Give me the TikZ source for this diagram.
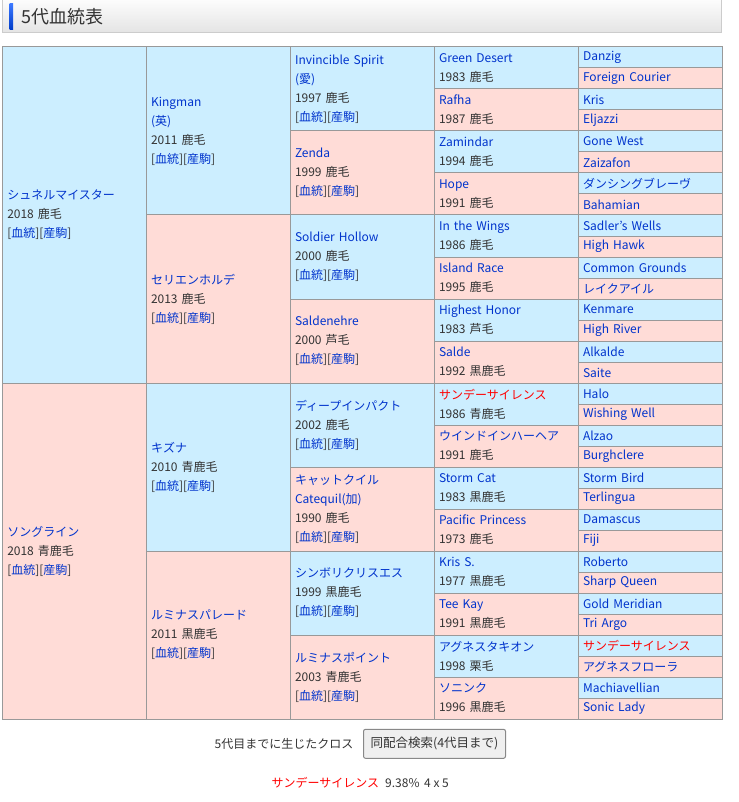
\documentclass[tikz,border=0pt]{standalone}
\usepackage{fontspec}
\setmainfont{Noto Sans CJK JP}
\definecolor{blu}{RGB}{204,238,255}
\definecolor{pnk}{RGB}{255,220,215}
\definecolor{bd}{RGB}{153,153,153}
\definecolor{lnk}{RGB}{0,51,204}
\definecolor{tx}{RGB}{51,51,51}
\definecolor{rd}{RGB}{255,0,0}
\definecolor{hdtop}{RGB}{252,252,252}
\definecolor{hdbot}{RGB}{228,228,228}
\definecolor{hdline}{RGB}{204,204,204}
\definecolor{bartop}{RGB}{60,120,255}
\definecolor{barbot}{RGB}{0,60,200}
\definecolor{btnf}{RGB}{239,239,239}
\definecolor{btnb}{RGB}{136,136,136}
\newcommand\lk{\relax[{\color{lnk}血統}][{\color{lnk}産駒}]}
\newcommand\nm[1]{{\color{lnk}#1}}
\newcommand\nr[1]{{\color{rd}#1}}
\newcommand\C[7]{%
  \pgfmathsetmacro\cy{46.5+21*#4}\pgfmathsetmacro\ch{21*#5}%
  \node[#6, minimum width=#3pt, minimum height=\ch pt] (#1) at (#2,\cy) {#7};}
\tikzset{
  cell/.style={draw=bd, line width=1pt, anchor=north west, inner xsep=4.5pt,
    inner ysep=0pt, align=left, text width=134pt,
    font=\fontsize{12}{19}\selectfont, text=tx},
  sb/.style={cell, fill=blu},
  sp/.style={cell, fill=pnk},
  plain/.style={inner sep=0pt, font=\fontsize{12}{14}\selectfont, text=tx},
}
\begin{document}
\begin{tikzpicture}[x=1pt,y=-1pt]
\useasboundingbox (0,0) rectangle (738,802);
% header
\shadedraw[top color=hdtop, bottom color=hdbot, draw=hdline, line width=1pt] (2,0) rectangle (721,33);
\shade[top color=bartop, bottom color=barbot] (9.5,4) rectangle (13,29.5);
\node[anchor=west, inner sep=0pt, font=\fontsize{18}{18}\selectfont, text=tx] (title) at (21,16.5) {5代血統表};
% generation 1
\C{g1a}{2}{143.5}{0}{16}{sb}{\nm{シュネルマイスター}\\2018 鹿毛\\\lk}
\C{g1b}{2}{143.5}{16}{16}{sp}{\nm{ソングライン}\\2018 青鹿毛\\\lk}
% generation 2
\C{g2a}{145.5}{144}{0}{8}{sb}{\nm{Kingman}\\\nm{(英)}\\2011 鹿毛\\\lk}
\C{g2b}{145.5}{144}{8}{8}{sp}{\nm{セリエンホルデ}\\2013 鹿毛\\\lk}
\C{g2c}{145.5}{144}{16}{8}{sb}{\nm{キズナ}\\2010 青鹿毛\\\lk}
\C{g2d}{145.5}{144}{24}{8}{sp}{\nm{ルミナスパレード}\\2011 黒鹿毛\\\lk}
% generation 3
\C{g3a}{289.5}{144}{0}{4}{sb}{\nm{Invincible Spirit}\\\nm{(愛)}\\1997 鹿毛\\\lk}
\C{g3b}{289.5}{144}{4}{4}{sp}{\nm{Zenda}\\1999 鹿毛\\\lk}
\C{g3c}{289.5}{144}{8}{4}{sb}{\nm{Soldier Hollow}\\2000 鹿毛\\\lk}
\C{g3d}{289.5}{144}{12}{4}{sp}{\nm{Saldenehre}\\2000 芦毛\\\lk}
\C{g3e}{289.5}{144}{16}{4}{sb}{\nm{ディープインパクト}\\2002 鹿毛\\\lk}
\C{g3f}{289.5}{144}{20}{4}{sp}{\nm{キャットクイル}\\\nm{Catequil(加)}\\1990 鹿毛\\\lk}
\C{g3g}{289.5}{144}{24}{4}{sb}{\nm{シンボリクリスエス}\\1999 黒鹿毛\\\lk}
\C{g3h}{289.5}{144}{28}{4}{sp}{\nm{ルミナスポイント}\\2003 青鹿毛\\\lk}
% generation 4
\C{g4a}{433.5}{144}{0}{2}{sb}{\nm{Green Desert}\\1983 鹿毛}
\C{g4b}{433.5}{144}{2}{2}{sp}{\nm{Rafha}\\1987 鹿毛}
\C{g4c}{433.5}{144}{4}{2}{sb}{\nm{Zamindar}\\1994 鹿毛}
\C{g4d}{433.5}{144}{6}{2}{sp}{\nm{Hope}\\1991 鹿毛}
\C{g4e}{433.5}{144}{8}{2}{sb}{\nm{In the Wings}\\1986 鹿毛}
\C{g4f}{433.5}{144}{10}{2}{sp}{\nm{Island Race}\\1995 鹿毛}
\C{g4g}{433.5}{144}{12}{2}{sb}{\nm{Highest Honor}\\1983 芦毛}
\C{g4h}{433.5}{144}{14}{2}{sp}{\nm{Salde}\\1992 黒鹿毛}
\C{g4i}{433.5}{144}{16}{2}{sb}{\nr{サンデーサイレンス}\\1986 青鹿毛}
\C{g4j}{433.5}{144}{18}{2}{sp}{\nm{ウインドインハーヘア}\\1991 鹿毛}
\C{g4k}{433.5}{144}{20}{2}{sb}{\nm{Storm Cat}\\1983 黒鹿毛}
\C{g4l}{433.5}{144}{22}{2}{sp}{\nm{Pacific Princess}\\1973 鹿毛}
\C{g4m}{433.5}{144}{24}{2}{sb}{\nm{Kris S.}\\1977 黒鹿毛}
\C{g4n}{433.5}{144}{26}{2}{sp}{\nm{Tee Kay}\\1991 黒鹿毛}
\C{g4o}{433.5}{144}{28}{2}{sb}{\nm{アグネスタキオン}\\1998 栗毛}
\C{g4p}{433.5}{144}{30}{2}{sp}{\nm{ソニンク}\\1996 黒鹿毛}
% generation 5
\C{g5a}{577.5}{144}{0}{1}{sb}{\nm{Danzig}}
\C{g5b}{577.5}{144}{1}{1}{sp}{\nm{Foreign Courier}}
\C{g5c}{577.5}{144}{2}{1}{sb}{\nm{Kris}}
\C{g5d}{577.5}{144}{3}{1}{sp}{\nm{Eljazzi}}
\C{g5e}{577.5}{144}{4}{1}{sb}{\nm{Gone West}}
\C{g5f}{577.5}{144}{5}{1}{sp}{\nm{Zaizafon}}
\C{g5g}{577.5}{144}{6}{1}{sb}{\nm{ダンシングブレーヴ}}
\C{g5h}{577.5}{144}{7}{1}{sp}{\nm{Bahamian}}
\C{g5i}{577.5}{144}{8}{1}{sb}{\nm{Sadler’s Wells}}
\C{g5j}{577.5}{144}{9}{1}{sp}{\nm{High Hawk}}
\C{g5k}{577.5}{144}{10}{1}{sb}{\nm{Common Grounds}}
\C{g5l}{577.5}{144}{11}{1}{sp}{\nm{レイクアイル}}
\C{g5m}{577.5}{144}{12}{1}{sb}{\nm{Kenmare}}
\C{g5n}{577.5}{144}{13}{1}{sp}{\nm{High River}}
\C{g5o}{577.5}{144}{14}{1}{sb}{\nm{Alkalde}}
\C{g5p}{577.5}{144}{15}{1}{sp}{\nm{Saite}}
\C{g5q}{577.5}{144}{16}{1}{sb}{\nm{Halo}}
\C{g5r}{577.5}{144}{17}{1}{sp}{\nm{Wishing Well}}
\C{g5s}{577.5}{144}{18}{1}{sb}{\nm{Alzao}}
\C{g5t}{577.5}{144}{19}{1}{sp}{\nm{Burghclere}}
\C{g5u}{577.5}{144}{20}{1}{sb}{\nm{Storm Bird}}
\C{g5v}{577.5}{144}{21}{1}{sp}{\nm{Terlingua}}
\C{g5w}{577.5}{144}{22}{1}{sb}{\nm{Damascus}}
\C{g5x}{577.5}{144}{23}{1}{sp}{\nm{Fiji}}
\C{g5y}{577.5}{144}{24}{1}{sb}{\nm{Roberto}}
\C{g5z}{577.5}{144}{25}{1}{sp}{\nm{Sharp Queen}}
\C{g5A}{577.5}{144}{26}{1}{sb}{\nm{Gold Meridian}}
\C{g5B}{577.5}{144}{27}{1}{sp}{\nm{Tri Argo}}
\C{g5C}{577.5}{144}{28}{1}{sb}{\nr{サンデーサイレンス}}
\C{g5D}{577.5}{144}{29}{1}{sp}{\nm{アグネスフローラ}}
\C{g5E}{577.5}{144}{30}{1}{sb}{\nm{Machiavellian}}
\C{g5F}{577.5}{144}{31}{1}{sp}{\nm{Sonic Lady}}
% bottom
\node[plain] (cross) at (284,743.5) {5代目までに生じたクロス};
\node[draw=btnb, fill=btnf, line width=1pt, rounded corners=2pt, minimum width=142pt,
  minimum height=29pt, inner sep=0pt, font=\fontsize{12.5}{14}\selectfont, text=tx] (btn) at (434.5,743.8) {同配合検索(4代目まで)};
\node[plain, anchor=west, text=rd] (ss) at (271.5,783) {サンデーサイレンス};
\node[plain, anchor=west] (pct) at (385,783) {9.38\%};
\node[plain, anchor=west] (gen) at (424,783) {4 x 5};
\end{tikzpicture}
\end{document}
